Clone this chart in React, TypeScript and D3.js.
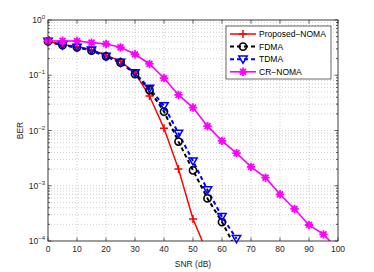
import React from "react";
import * as d3 from "d3";

const snr = [0, 5, 10, 15, 20, 25, 30, 35, 40, 45, 50, 55, 60, 65, 70, 75, 80, 85, 90, 95, 100];
const proposedNoma = [0.41, 0.36, 0.33, 0.29, 0.23, 0.18, 0.11, 0.042, 0.011, 0.002, 2.5e-4, 6e-5];
const fdma = [0.41, 0.35, 0.32, 0.28, 0.22, 0.17, 0.105, 0.054, 0.022, 0.0063, 0.0019, 5.9e-4, 2.2e-4, 7e-5];
const tdma = [0.41, 0.35, 0.32, 0.285, 0.22, 0.17, 0.11, 0.058, 0.028, 0.0089, 0.0028, 8.4e-4, 2.75e-4, 1.1e-4];
const crNoma = [0.417, 0.42, 0.417, 0.39, 0.368, 0.32, 0.24, 0.16, 0.089, 0.044, 0.026, 0.012, 0.0065, 0.0039, 0.0022, 0.0014, 7e-4, 3.8e-4, 1.95e-4, 1.32e-4, 7e-5];
const xTicks = [0, 10, 20, 30, 40, 50, 60, 70, 80, 90, 100];
const yExponents = [0, -1, -2, -3, -4];
const seriesNames = ["Proposed\u2212NOMA", "FDMA", "TDMA", "CR\u2212NOMA"];

const W = 374, H = 272;
const L = 48, R = 338, T = 20, B = 241;
const FONT = "'Liberation Sans', Arial, sans-serif";

function Marker({ kind, x, y, color }: { kind: string; x: number; y: number; color: string }) {
  if (kind === "plus") {
    const s = 4;
    return <path d={`M${x - s},${y}H${x + s}M${x},${y - s}V${y + s}`} stroke={color} strokeWidth={1.5} fill="none" />;
  }
  if (kind === "circle") {
    return <circle cx={x} cy={y} r={3.6} stroke={color} strokeWidth={1.6} fill="none" />;
  }
  if (kind === "tri") {
    const s = 4.2;
    return <path d={`M${x - s},${y - s * 0.75}L${x + s},${y - s * 0.75}L${x},${y + s * 0.95}Z`} stroke={color} strokeWidth={1.5} fill="none" />;
  }
  // star (asterisk with 6 arms + center fill)
  const s = 4.2;
  const arms: string[] = [];
  for (let k = 0; k < 4; k++) {
    const a = (k * Math.PI) / 4;
    arms.push(`M${x - s * Math.cos(a)},${y - s * Math.sin(a)}L${x + s * Math.cos(a)},${y + s * Math.sin(a)}`);
  }
  return (
    <g>
      <circle cx={x} cy={y} r={2.4} fill={color} />
      <path d={arms.join("")} stroke={color} strokeWidth={1.8} fill="none" />
    </g>
  );
}

export default function App() {
  const x = d3.scaleLinear().domain([0, 100]).range([L, R]);
  const y = d3.scaleLog().domain([1e-4, 1]).range([B, T]);

  const series = [
    { name: seriesNames[0], vals: proposedNoma, color: "#ff0000", dash: "", kind: "plus", lw: 1.5 },
    { name: seriesNames[1], vals: fdma, color: "#000000", dash: "4,3", kind: "circle", lw: 2 },
    { name: seriesNames[2], vals: tdma, color: "#0000ff", dash: "4,3", kind: "tri", lw: 2 },
    { name: seriesNames[3], vals: crNoma, color: "#ff00ff", dash: "", kind: "star", lw: 1.6 },
  ];

  const line = d3
    .line<number>()
    .x((_, i) => x(snr[i]))
    .y((d) => y(d));

  const minor: number[] = [];
  for (let e = -4; e < 0; e++) for (let m = 2; m <= 9; m++) minor.push(m * Math.pow(10, e));

  const legX = 226, legY = 26, legW = 105, legH = 53;

  return (
    <svg width={W} height={H} style={{ position: "absolute", left: 0, top: 0, background: "#fff" }} fontFamily={FONT}>
      <defs>
        <clipPath id="plot">
          <rect x={L} y={T} width={R - L} height={B - T} />
        </clipPath>
      </defs>
      <rect x={L} y={T} width={R - L} height={B - T} fill="#fff" />
      {/* grid */}
      <g stroke="#b0b0b0" strokeWidth={0.6} strokeDasharray="1,2">
        {xTicks.slice(1, -1).map((t) => (
          <line key={"gx" + t} x1={x(t)} x2={x(t)} y1={T} y2={B} />
        ))}
        {minor.map((v, i) => (
          <line key={"gm" + i} x1={L} x2={R} y1={y(v)} y2={y(v)} />
        ))}
        {yExponents.slice(1, -1).map((e) => (
          <line key={"gy" + e} x1={L} x2={R} y1={y(Math.pow(10, e))} y2={y(Math.pow(10, e))} />
        ))}
      </g>
      {/* ticks */}
      <g stroke="#262626" strokeWidth={0.7}>
        {xTicks.map((t) => (
          <g key={"tx" + t}>
            <line x1={x(t)} x2={x(t)} y1={B} y2={B - 3.5} />
            <line x1={x(t)} x2={x(t)} y1={T} y2={T + 3.5} />
          </g>
        ))}
        {yExponents.map((e) => (
          <g key={"ty" + e}>
            <line x1={L} x2={L + 3.5} y1={y(Math.pow(10, e))} y2={y(Math.pow(10, e))} />
            <line x1={R} x2={R - 3.5} y1={y(Math.pow(10, e))} y2={y(Math.pow(10, e))} />
          </g>
        ))}
        {minor.map((v, i) => (
          <g key={"tm" + i}>
            <line x1={L} x2={L + 2} y1={y(v)} y2={y(v)} />
            <line x1={R} x2={R - 2} y1={y(v)} y2={y(v)} />
          </g>
        ))}
      </g>
      {/* series */}
      <g clipPath="url(#plot)">
        {series.map((s) => (
          <path key={s.name} d={line(s.vals) || ""} fill="none" stroke={s.color} strokeWidth={s.lw} strokeDasharray={s.dash} />
        ))}
      </g>
      {series.map((s) => (
        <g key={s.name + "m"}>
          {s.vals.map((v, i) =>
            v >= 1e-4 && snr[i] <= 100 ? <Marker key={i} kind={s.kind} x={x(snr[i])} y={y(v)} color={s.color} /> : null
          )}
        </g>
      ))}
      {/* axes box */}
      <rect x={L} y={T} width={R - L} height={B - T} fill="none" stroke="#262626" strokeWidth={0.9} />
      {/* tick labels */}
      <g fontSize={8.5} fill="#262626">
        {xTicks.map((t) => (
          <text key={"lx" + t} x={x(t)} y={252} textAnchor="middle">
            {t}
          </text>
        ))}
        {yExponents.map((e) => (
          <text key={"ly" + e} x={L - 3} y={y(Math.pow(10, e)) + 3} textAnchor="end">
            10
            <tspan dy={-4} fontSize={6}>
              {e === 0 ? "0" : "\u2212" + -e}
            </tspan>
          </text>
        ))}
      </g>
      <text x={(L + R) / 2} y={267} textAnchor="middle" fontSize={8.5} fill="#262626">
        SNR (dB)
      </text>
      <text transform={`translate(23,${(T + B) / 2}) rotate(-90)`} textAnchor="middle" fontSize={8.5} fill="#262626">
        BER
      </text>
      {/* legend */}
      <rect x={legX} y={legY} width={legW} height={legH} fill="#fff" stroke="#262626" strokeWidth={0.7} />
      {series.map((s, i) => {
        const ly = 34 + i * 12.6;
        return (
          <g key={s.name + "leg"}>
            <line x1={230} x2={256} y1={ly} y2={ly} stroke={s.color} strokeWidth={s.lw} strokeDasharray={s.dash} />
            <Marker kind={s.kind} x={243} y={ly} color={s.color} />
            <text x={259} y={ly + 3} fontSize={8.5} fill="#000">
              {s.name}
            </text>
          </g>
        );
      })}
    </svg>
  );
}
